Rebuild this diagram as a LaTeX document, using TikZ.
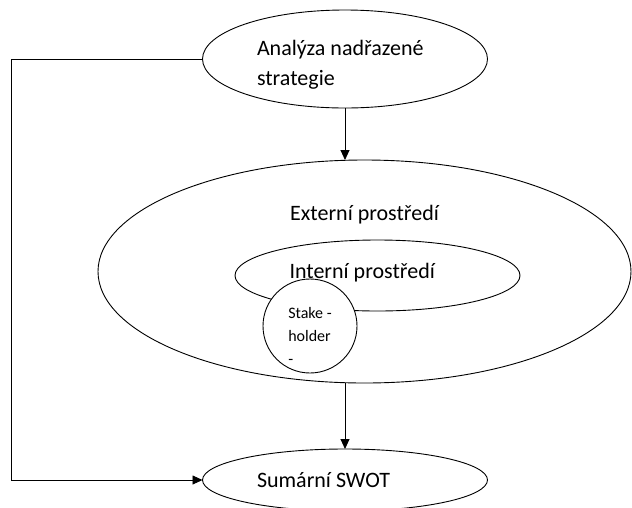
\documentclass[tikz,border=0pt]{standalone}
\usepackage{fontspec}
\setmainfont{Carlito}
\usetikzlibrary{shapes.geometric,arrows.meta,positioning}

\begin{document}
\begin{tikzpicture}[x=1pt, y=-1pt, >={Triangle[length=10pt,width=9pt]}, line width=0.9pt,
    oval/.style={ellipse, draw, fill=white, inner sep=0pt, outer sep=0pt},
    txt/.style={font=\fontsize{22}{30}\selectfont, text width=176pt, align=flush left}]
    \useasboundingbox (0,0) rectangle (632,507);
    \node [oval, txt, text height=18pt, text depth=26pt, minimum width=285pt, minimum height=98pt] (analyza) at (345,59) {Analýza nadřazené\\strategie};
    \node [oval, minimum width=533pt, minimum height=223pt] (extern) at (364.5,271.5) {};
    \node [font=\fontsize{22}{30}\selectfont, below=41pt of extern.north] (externtext) {Externí prostředí};
    \node [oval, txt, text height=15pt, text depth=10pt, minimum width=285pt, minimum height=71pt] (intern) at (377.5,275.5) {Interní prostředí};
    \node [circle, draw, fill=white, minimum size=94pt, inner sep=0pt, text height=76pt, text depth=0pt, font=\fontsize{16}{23}\selectfont, align=flush left] (stake) at (310,326) {Stake -\\holder\\-};
    \node [oval, txt, minimum width=285pt, minimum height=62pt] (swot) at (345,480) {Sumární SWOT};
    \coordinate (corner) at (11,59);

    \draw [->] (analyza.west) -- (corner) |- (swot.west);
    \draw [->] (analyza.south) -- (analyza.south |- extern.north);
    \draw [->] (swot.north |- extern.south) -- (swot.north);
\end{tikzpicture}
\end{document}
